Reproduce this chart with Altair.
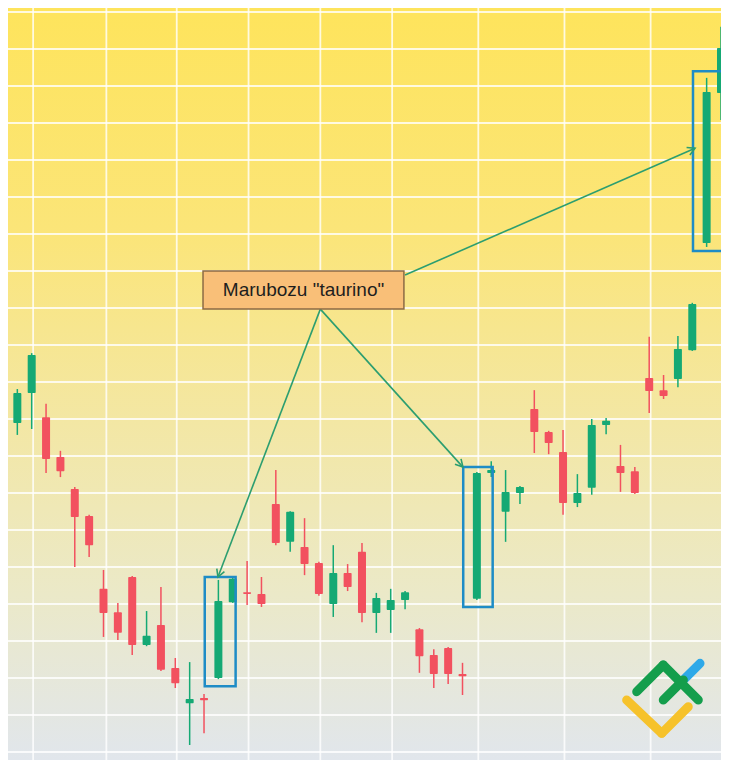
import altair as alt
import pandas as pd

# ---------------- data ----------------
t = list(range(51))
open_ = [201.1, 188.9, 197.0, 190.5, 179.7, 171.1, 163.8, 144.1, 137.8, 147.3,
         128.9, 134.3, 122.7, 113.2, 114.6, 120.0, 140.5, 143.2, 142.7, 167.0,
         156.8, 155.4, 151.1, 140.0, 148.4, 154.1, 137.6, 138.4, 141.1, 133.2,
         126.2, 128.1, 121.1, 141.4, 175.4, 164.9, 170.0, 192.7, 186.5, 181.1,
         167.3, 171.4, 188.4, 177.3, 175.9, 201.1, 197.8, 200.8, 208.6, 237.6,
         278.1]
high = [206.5, 198.1, 207.8, 194.1, 181.4, 171.6, 164.1, 149.2, 140.3, 147.6,
        138.1, 144.6, 125.4, 124.3, 115.7, 146.5, 147.3, 151.6, 147.3, 176.2,
        165.1, 163.2, 151.4, 155.9, 150.8, 156.5, 143.0, 144.1, 143.5, 133.5,
        127.8, 128.4, 124.1, 175.7, 178.6, 176.2, 171.9, 197.8, 186.8, 187.0,
        175.1, 190.0, 190.3, 183.0, 177.0, 212.2, 201.9, 212.4, 221.4, 282.2,
        296.0]
low = [198.6, 185.7, 187.3, 175.4, 174.3, 150.0, 152.7, 131.1, 130.3, 126.2,
       128.6, 121.9, 117.3, 101.9, 105.1, 119.7, 140.3, 139.7, 139.2, 155.9,
       154.1, 147.8, 142.2, 136.5, 143.5, 135.1, 132.2, 132.2, 138.6, 121.4,
       117.3, 118.4, 115.4, 141.1, 174.3, 156.8, 167.0, 180.8, 180.5, 164.1,
       166.2, 169.5, 185.9, 170.3, 169.7, 191.6, 195.4, 198.6, 208.4, 236.5,
       270.8]
close = [203.2, 197.0, 207.3, 179.2, 175.9, 163.5, 155.9, 137.6, 132.2, 128.9,
         131.4, 122.2, 118.6, 114.3, 114.0, 140.8, 146.8, 142.7, 140.0, 156.5,
         164.9, 150.8, 142.7, 148.4, 144.6, 137.6, 141.6, 141.1, 143.2, 125.9,
         121.1, 121.1, 120.5, 175.4, 176.2, 170.3, 171.6, 186.5, 183.5, 167.3,
         170.0, 188.4, 189.5, 175.4, 170.0, 197.6, 196.2, 208.9, 221.1, 278.4,
         290.3]

# grid positions
grid_x = [2.1, 7.2, 12.1, 17.1, 22.1, 27.1, 33.1, 39.1, 45.1, 50.1]
grid_y = [100, 110, 120, 130, 140, 150, 160, 170, 180, 190, 200,
          210, 220, 230, 240, 250, 260, 270, 280, 290, 300]

# highlight boxes around the bullish marubozu candles
box_x0 = [14.05, 32.05, 48.05]
box_x1 = [16.2, 34.1, 50.15]
box_top = [147.3, 177.0, 284.0]
box_bot = [117.8, 139.2, 235.4]

# annotation label
label_text = ['Marubozu "taurino"']
label_x0 = [13.93]
label_x1 = [27.92]
label_top = [230.0]
label_bot = [219.7]
label_cx = [20.93]
label_cy = [224.9]

# arrows
arr_x0 = [22.1, 22.1, 28.0]
arr_y0 = [219.7, 219.7, 228.9]
arr_x1 = [14.97, 32.03, 48.19]
arr_y1 = [147.3, 177.0, 263.2]
arr_angle = [201, 138, 66]

# logo segments
logo_x0 = [43.43, 45.87, 47.38, 45.98, 44.13, 45.98]
logo_y0 = [114.05, 105.05, 119.46, 114.05, 116.30, 123.51]
logo_x1 = [45.87, 47.72, 48.54, 47.38, 45.98, 48.42]
logo_y1 = [105.05, 112.24, 123.97, 119.46, 123.51, 114.05]
logo_col = ["#F6C22B", "#F6C22B", "#2EA9E8", "#149E4C", "#149E4C", "#149E4C"]

# ---------------- styling ----------------
W, H = 713, 752
GREEN = "#15A974"
RED = "#F2515F"
BLUE = "#1E8CC6"
ARROW = "#2C9E70"

xs = alt.Scale(domain=[0.35, 50.0], nice=False, zero=False, padding=0)
ys = alt.Scale(domain=[97.84, 301.08], nice=False, zero=False, padding=0)

candles = pd.DataFrame({"t": t, "open": open_, "high": high, "low": low, "close": close})
boxes = pd.DataFrame({"x0": box_x0, "x1": box_x1, "top": box_top, "bot": box_bot})
label = pd.DataFrame({"x0": label_x0, "x1": label_x1, "top": label_top, "bot": label_bot,
                      "cx": label_cx, "cy": label_cy, "txt": label_text})
arrows = pd.DataFrame({"x0": arr_x0, "y0": arr_y0, "x1": arr_x1, "y1": arr_y1, "ang": arr_angle})
logo = pd.DataFrame({"x0": logo_x0, "y0": logo_y0, "x1": logo_x1, "y1": logo_y1, "c": logo_col})

bg = alt.Chart(pd.DataFrame({"k": [0]})).mark_rect(
    fill=alt.Gradient(
        gradient="linear",
        stops=[
            alt.GradientStop(color="#FEE45C", offset=0),
            alt.GradientStop(color="#FBE579", offset=0.3),
            alt.GradientStop(color="#F3E7A4", offset=0.55),
            alt.GradientStop(color="#EBE9C8", offset=0.78),
            alt.GradientStop(color="#E1E6EC", offset=1),
        ],
        x1=0, x2=0, y1=0, y2=1,
    )
).encode(x=alt.value(0), x2=alt.value(W), y=alt.value(0), y2=alt.value(H))

gridv = alt.Chart(pd.DataFrame({"gx": grid_x})).mark_rule(
    color="white", strokeWidth=1.8, opacity=0.8
).encode(x=alt.X("gx:Q", scale=xs, axis=None))

gridh = alt.Chart(pd.DataFrame({"gy": grid_y})).mark_rule(
    color="white", strokeWidth=1.8, opacity=0.8
).encode(y=alt.Y("gy:Q", scale=ys, axis=None))

col = alt.when("datum.close >= datum.open").then(alt.value(GREEN)).otherwise(alt.value(RED))

base = alt.Chart(candles)
wicks = base.mark_rule(strokeWidth=1.5).encode(
    x=alt.X("t:Q", scale=xs, axis=None),
    y=alt.Y("low:Q", scale=ys, axis=None),
    y2="high:Q",
    color=col,
)
bodies = base.mark_bar(size=8, cornerRadius=1).encode(
    x=alt.X("t:Q", scale=xs, axis=None),
    y=alt.Y("open:Q", scale=ys, axis=None),
    y2="close:Q",
    color=col,
)

boxl = alt.Chart(boxes).mark_rect(fill=None, stroke=BLUE, strokeWidth=2.5).encode(
    x=alt.X("x0:Q", scale=xs, axis=None), x2="x1:Q",
    y=alt.Y("top:Q", scale=ys, axis=None), y2="bot:Q",
)

arrow_lines = alt.Chart(arrows).mark_rule(color=ARROW, strokeWidth=1.6).encode(
    x=alt.X("x0:Q", scale=xs, axis=None), x2="x1:Q",
    y=alt.Y("y0:Q", scale=ys, axis=None), y2="y1:Q",
)
arrow_heads = alt.Chart(arrows).mark_point(
    shape="M -0.55 1 L 0 0 L 0.55 1", filled=False, color=ARROW, strokeWidth=1.6,
    size=220, opacity=1,
).encode(
    x=alt.X("x1:Q", scale=xs, axis=None),
    y=alt.Y("y1:Q", scale=ys, axis=None),
    angle=alt.Angle("ang:Q", scale=None),
)

label_box = alt.Chart(label).mark_rect(fill="#F9BF78", stroke="#8C6B45", strokeWidth=1.5).encode(
    x=alt.X("x0:Q", scale=xs, axis=None), x2="x1:Q",
    y=alt.Y("top:Q", scale=ys, axis=None), y2="bot:Q",
)
label_txt = alt.Chart(label).mark_text(
    font="Liberation Sans", fontSize=19, color="#1E1E1E", align="center", baseline="middle"
).encode(
    x=alt.X("cx:Q", scale=xs, axis=None),
    y=alt.Y("cy:Q", scale=ys, axis=None),
    text="txt:N",
)

logo_l = alt.Chart(logo).mark_rule(strokeWidth=9, strokeCap="round").encode(
    x=alt.X("x0:Q", scale=xs, axis=None), x2="x1:Q",
    y=alt.Y("y0:Q", scale=ys, axis=None), y2="y1:Q",
    color=alt.Color("c:N", scale=None),
)

chart = alt.layer(
    bg, gridh, gridv, wicks, bodies, boxl, arrow_lines, arrow_heads, label_box, label_txt, logo_l
).properties(
    width=W, height=H, padding=0, autosize=alt.AutoSizeParams(type="none")
).configure_view(strokeWidth=0)

chart.save("out.html", embed_options={"renderer": "svg", "actions": False})
